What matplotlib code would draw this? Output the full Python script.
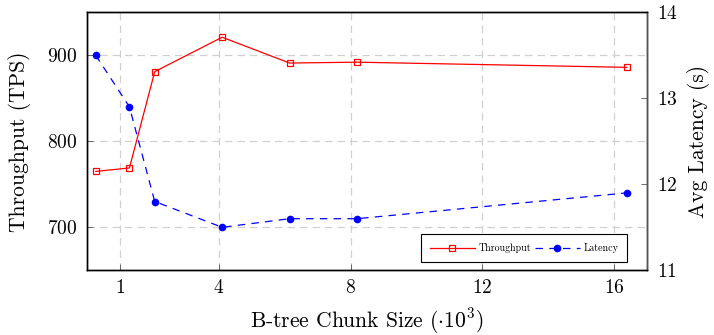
import matplotlib
matplotlib.use("Agg")
import matplotlib.pyplot as plt

# chunk sizes in thousands
chunk_sizes = [0.256, 1.28, 2.048, 4.096, 6.144, 8.192, 16.384]
throughput = [765, 769, 881, 921, 891, 892, 886]
latency = [13.5, 12.9, 11.8, 11.5, 11.6, 11.6, 11.9]

x_ticks = [1, 4, 8, 12, 16]
tps_ticks = [700, 800, 900]
lat_ticks = [11, 12, 13, 14]

plt.rcParams['font.family'] = 'cmr10'
plt.rcParams['mathtext.fontset'] = 'cm'
plt.rcParams['axes.formatter.use_mathtext'] = True
plt.rcParams['axes.unicode_minus'] = False

fig = plt.figure(figsize=(7.14, 3.35), dpi=100)
ax = fig.add_axes([87.3 / 714, 1 - 270.3 / 335, (647 - 87.3) / 714, (270.3 - 12.3) / 335])
ax2 = ax.twinx()

l1, = ax.plot(chunk_sizes, throughput, color='red', lw=0.9, marker='s', markersize=5,
              markerfacecolor='none', markeredgecolor='red', markeredgewidth=0.9, label='Throughput')
l2, = ax2.plot(chunk_sizes, latency, color='blue', lw=0.9, linestyle=(0, (6, 5)), marker='o',
               markersize=4.5, markerfacecolor='blue', markeredgecolor='blue', label='Latency')

ax.set_xlim(0, 17)
ax.set_ylim(650, 950)
ax2.set_ylim(11, 14)
ax.set_xticks(x_ticks)
ax.set_yticks(tps_ticks)
ax2.set_yticks(lat_ticks)

ax.grid(True, color='#d0d0d0', linestyle=(0, (6, 4)), lw=0.9)
ax.set_axisbelow(True)

ax.tick_params(direction='in', length=4, labelsize=14, width=0.6, color='#555555', pad=7)
ax.tick_params(axis='x', pad=6)
ax2.tick_params(direction='in', length=4, labelsize=14, width=0.6, color='#555555', pad=7)
for sp in ax.spines.values():
    sp.set_linewidth(1.0)
for sp in ax2.spines.values():
    sp.set_linewidth(1.0)
ax2.spines['right'].set_color('#555555')

ax.set_xlabel(r'B-tree Chunk Size ($\cdot 10^3$)', fontsize=15.5, labelpad=7)
ax.set_ylabel('Throughput (TPS)', fontsize=15.5, labelpad=12)
ax2.set_ylabel('Avg Latency (s)', fontsize=15.5, labelpad=7)

leg = ax2.legend([l1, l2], ['Throughput', 'Latency'], loc='lower right', ncol=2,
                 fontsize=7.2, frameon=True, fancybox=False, edgecolor='black',
                 framealpha=1, handlelength=4.5, borderpad=0.9, columnspacing=0.3,
                 handletextpad=0.4, borderaxespad=0, bbox_to_anchor=(0.965, 0.032))
leg.get_frame().set_linewidth(0.8)

plt.savefig('out.png', dpi=100)
plt.close()
